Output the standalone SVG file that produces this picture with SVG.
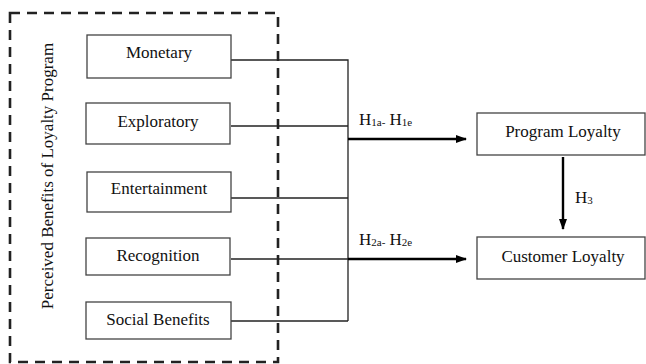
<svg xmlns="http://www.w3.org/2000/svg" width="646" height="364" viewBox="0 0 646 364">
<defs>
<marker id="ah" markerWidth="11" markerHeight="8" refX="10" refY="4" orient="auto" markerUnits="userSpaceOnUse">
<path d="M0,0 L11,4 L0,8 z" fill="#000"/>
</marker>
<style>
.box{fill:#fff;stroke:#444;stroke-width:1.3}
.t{font-family:"Liberation Serif","Times New Roman",serif;font-size:17px;fill:#111}
.c{text-anchor:middle}
.ln{stroke:#222;stroke-width:1.3;fill:none}
.ar{stroke:#000;stroke-width:2.4;fill:none}
.sub{font-size:11px}
</style>
</defs>
<rect width="646" height="364" fill="#fff"/>
<g id="group-frame">
<rect x="10" y="13" width="268" height="349" fill="none" stroke="#222" stroke-width="2.6" stroke-dasharray="10,7"/>
<text class="t c" transform="translate(53,176) rotate(-90)">Perceived Benefits of Loyalty Program</text>
</g>
<g id="connectors">
<path class="ln" d="M231,60 H348 V321"/>
<path class="ln" d="M231,126 H348"/>
<path class="ln" d="M231,198 H348"/>
<path class="ln" d="M231,259 H348"/>
<path class="ln" d="M231,321 H348"/>
<path class="ar" d="M348,139 H466" marker-end="url(#ah)"/>
<path class="ar" d="M348,259 H466" marker-end="url(#ah)"/>
<path class="ar" d="M563,157 V229" marker-end="url(#ah)"/>
<text class="t" x="359" y="125">H<tspan class="sub" dy="1">1a-</tspan><tspan dy="-1"> H</tspan><tspan class="sub" dy="1">1e</tspan></text>
<text class="t" x="359" y="245">H<tspan class="sub" dy="1">2a-</tspan><tspan dy="-1"> H</tspan><tspan class="sub" dy="1">2e</tspan></text>
<text class="t" x="575" y="203">H<tspan class="sub" dy="1">3</tspan></text>
</g>
<g id="node-monetary"><rect class="box" x="87" y="35" width="144" height="43"/><text class="t c" x="159" y="58">Monetary</text></g>
<g id="node-exploratory"><rect class="box" x="86" y="103" width="144" height="41"/><text class="t c" x="158" y="127">Exploratory</text></g>
<g id="node-entertainment"><rect class="box" x="87" y="172" width="144" height="40"/><text class="t c" x="159" y="194">Entertainment</text></g>
<g id="node-recognition"><rect class="box" x="86" y="238" width="144" height="37"/><text class="t c" x="158" y="261">Recognition</text></g>
<g id="node-social"><rect class="box" x="86" y="302" width="145" height="37"/><text class="t c" x="158" y="325">Social Benefits</text></g>
<g id="node-program-loyalty"><rect class="box" x="477" y="113" width="168" height="42"/><text class="t c" x="563" y="137">Program Loyalty</text></g>
<g id="node-customer-loyalty"><rect class="box" x="477" y="237" width="168" height="42"/><text class="t c" x="563" y="262">Customer Loyalty</text></g>
</svg>
